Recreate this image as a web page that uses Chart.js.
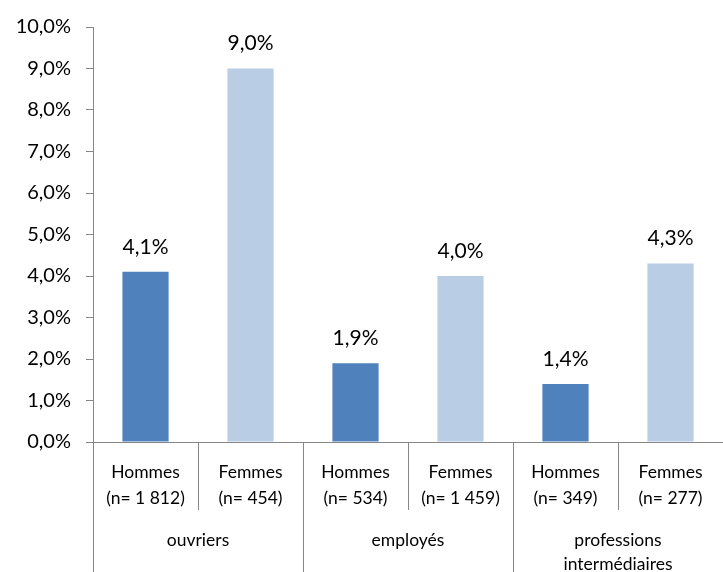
<!DOCTYPE html>
<html>
<head>
<meta charset="utf-8">
<script src="https://cdn.jsdelivr.net/npm/chart.js@4"></script>
<style>
  html, body { margin: 0; padding: 0; background: #fff; }
  #wrap { width: 723px; height: 572px; }
</style>
</head>
<body>
<div id="wrap"><canvas id="c" width="723" height="572"></canvas></div>
<script>
// Sexe par catégorie socioprofessionnelle, avec effectifs
const sexes = ['Hommes', 'Femmes', 'Hommes', 'Femmes', 'Hommes', 'Femmes'];
const effectifs = ['(n= 1 812)', '(n= 454)', '(n= 534)', '(n= 1 459)', '(n= 349)', '(n= 277)'];
const groupes = [['ouvriers'], ['employés'], ['professions', 'intermédiaires']];
const valeurs = [4.1, 9.0, 1.9, 4.0, 1.4, 4.3];
const couleurs = ['#4F81BD', '#B9CDE5', '#4F81BD', '#B9CDE5', '#4F81BD', '#B9CDE5'];
const yTicks = [0, 1, 2, 3, 4, 5, 6, 7, 8, 9, 10];

const FONT = 'Lato, "Open Sans", sans-serif';
const AXIS = '#868686';
const fmt = v => v.toFixed(1).replace('.', ',') + '%';

const labelsPlugin = {
  id: 'multiLevel',
  afterDraw(chart) {
    const ctx = chart.ctx;
    const x = chart.scales.x;
    const area = chart.chartArea;
    const n = valeurs.length;
    const half = (x.getPixelForValue(1) - x.getPixelForValue(0)) / 2;
    ctx.save();
    // valeurs au-dessus des barres
    const meta = chart.getDatasetMeta(0);
    ctx.fillStyle = '#000';
    ctx.font = '21px ' + FONT;
    ctx.textAlign = 'center';
    ctx.textBaseline = 'middle';
    meta.data.forEach((bar, i) => {
      ctx.fillText(fmt(valeurs[i]), bar.x, bar.y - 25);
    });
    // séparateurs de l'axe des catégories
    ctx.strokeStyle = AXIS;
    ctx.lineWidth = 1;
    for (let i = 0; i <= n; i++) {
      const px = Math.round(x.getPixelForValue(i) - half) + 0.5;
      const isGroup = i % 2 === 0;
      ctx.beginPath();
      ctx.moveTo(px, area.bottom);
      ctx.lineTo(px, isGroup ? chart.height : area.bottom + 68);
      ctx.stroke();
    }
    // libellés de niveau 1 et 2
    ctx.fillStyle = '#000';
    ctx.font = '17.5px ' + FONT;
    for (let i = 0; i < n; i++) {
      const cx = x.getPixelForValue(i);
      ctx.fillText(sexes[i], cx, area.bottom + 30);
      ctx.fillText(effectifs[i], cx, area.bottom + 56);
    }
    groupes.forEach((g, j) => {
      const cx = (x.getPixelForValue(2 * j) + x.getPixelForValue(2 * j + 1)) / 2;
      g.forEach((line, k) => {
        ctx.fillText(line, cx, area.bottom + 98 + k * 24);
      });
    });
    ctx.restore();
  }
};

new Chart(document.getElementById('c'), {
  type: 'bar',
  data: {
    labels: sexes.map((s, i) => s + ' ' + effectifs[i]),
    datasets: [{
      data: valeurs,
      backgroundColor: couleurs,
      barPercentage: 0.44,
      categoryPercentage: 1.0
    }]
  },
  options: {
    responsive: false,
    animation: false,
    layout: { padding: { top: 27, right: 0, left: 0, bottom: 0 } },
    plugins: { legend: { display: false }, tooltip: { enabled: false } },
    scales: {
      x: {
        grid: { display: false },
        border: { display: true, color: AXIS, width: 1 },
        ticks: { display: false },
        afterFit(scale) { scale.height = 130; }
      },
      y: {
        min: 0,
        max: 10,
        afterBuildTicks(scale) { scale.ticks = yTicks.map(v => ({ value: v })); },
        ticks: {
          callback: v => fmt(v),
          color: '#000',
          font: { family: FONT, size: 20 },
          padding: 15
        },
        grid: { drawOnChartArea: false, drawTicks: true, tickLength: 7, color: AXIS },
        border: { display: true, color: AXIS, width: 1 },
        afterFit(scale) { scale.width = 93; }
      }
    }
  },
  plugins: [labelsPlugin]
});
</script>
</body>
</html>
